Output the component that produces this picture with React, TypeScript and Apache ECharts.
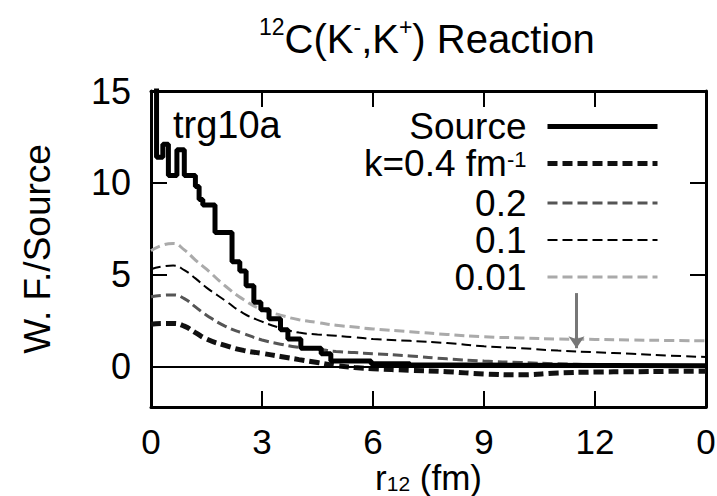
import React, { useEffect, useRef } from "react";
import * as echarts from "echarts";

// Source histogram (bin start r in fm, value)
const sourceR = [0, 0.15, 0.32, 0.47, 0.7, 0.9, 1.2, 1.3, 1.4, 1.73, 2.19, 2.4, 2.57, 2.78, 2.97, 3.19, 3.5, 3.7, 4.05, 4.6, 4.86, 5.95, 7.0, 9.0, 15];
const sourceV = [18, 11.4, 12.1, 10.4, 11.8, 10.4, 9.8, 9.1, 8.8, 7.3, 5.7, 5.2, 4.4, 3.5, 3.1, 2.6, 2.0, 1.5, 1.0, 0.7, 0.3, 0.15, 0.08, 0.05, 0.05];

// W.F./Source curves
const rK = [0, 0.3, 0.6, 0.9, 1.2, 1.5, 2.0, 2.5, 3.0, 3.5, 4.0, 4.5, 5.0, 5.5, 6.0, 7.0, 8.0, 9.0, 10, 11, 12, 13, 14, 15];
const k04 = [2.3, 2.35, 2.35, 2.2, 1.85, 1.5, 1.15, 0.88, 0.72, 0.55, 0.38, 0.22, 0.05, -0.05, -0.12, -0.2, -0.28, -0.4, -0.45, -0.35, -0.3, -0.28, -0.26, -0.25];
const k02 = [3.8, 3.88, 3.9, 3.7, 3.25, 2.8, 2.2, 1.8, 1.45, 1.22, 1.05, 0.95, 0.82, 0.76, 0.7, 0.58, 0.42, 0.3, 0.22, 0.15, 0.1, 0.06, 0.03, 0.0];
const k01 = [5.3, 5.45, 5.5, 5.25, 4.8, 4.3, 3.6, 2.9, 2.45, 2.1, 1.85, 1.75, 1.68, 1.6, 1.5, 1.4, 1.28, 1.1, 1.0, 0.87, 0.78, 0.7, 0.6, 0.52];
const k001 = [6.3, 6.6, 6.7, 6.35, 5.8, 5.3, 4.4, 3.65, 3.1, 2.8, 2.55, 2.4, 2.25, 2.15, 2.05, 1.9, 1.75, 1.62, 1.56, 1.5, 1.48, 1.45, 1.42, 1.4];

const seriesNames = ["Source", "k=0.4 fm-1", "0.2", "0.1", "0.01"];
const yTicks = [0, 5, 10, 15];
const arrowFrom = [11.5, 4.0];
const arrowTo = [11.5, 1.0];

const FONT = "'Liberation Sans', Arial, Helvetica, sans-serif";

export default function App() {
  const ref = useRef<HTMLDivElement>(null);
  useEffect(() => {
    if (!ref.current) return;
    const chart = echarts.init(ref.current, null, { renderer: "svg" });
    const pair = (xs: number[], ys: number[]) => xs.map((x, i) => [x, ys[i]]);
    const frameAxisX = {
      type: "value",
      min: 0,
      max: 15,
      interval: 3,
      splitLine: { show: false },
      axisLine: { show: true, onZero: false, lineStyle: { color: "#000", width: 3 } },
      axisTick: { show: true, inside: true, length: 16, lineStyle: { color: "#000", width: 2 } },
    };
    const frameAxisY = {
      type: "value",
      min: -2.2,
      max: 15,
      splitLine: { show: false },
      axisLine: { show: true, onZero: false, lineStyle: { color: "#000", width: 3 } },
      axisTick: { show: true, inside: true, length: 16, customValues: yTicks, lineStyle: { color: "#000", width: 2 } },
    };
    chart.setOption({
      animation: false,
      backgroundColor: "#fff",
      textStyle: { fontFamily: FONT },
      title: [
        {
          text: "{sup|12}{n|C(K}{sup|-}{n|,K}{sup|+}{n|) Reaction}",
          left: 254,
          top: 10,
          textStyle: {
            fontFamily: FONT,
            fontWeight: "normal",
            color: "#000",
            rich: {
              n: { fontSize: 40, fontFamily: FONT, color: "#000", lineHeight: 44, verticalAlign: "bottom" },
              sup: { fontSize: 23, fontFamily: FONT, color: "#000", lineHeight: 23, verticalAlign: "top" },
            },
          },
        },
        {
          text: "trg10a",
          left: 168,
          top: 101,
          textStyle: { fontFamily: FONT, fontWeight: "normal", fontSize: 38, color: "#000" },
        },
      ],
      legend: {
        right: 57,
        top: 108,
        orient: "vertical",
        align: "right",
        padding: 0,
        itemWidth: 110,
        itemHeight: 14,
        itemGap: 0,
        selectedMode: false,
        lineStyle: { width: "inherit" },
        itemStyle: { opacity: 0 },
        data: seriesNames,
        formatter: (name: string) => (name === "k=0.4 fm-1" ? "{n|k=0.4 fm}{sup|-1}" : "{n|" + name + "}"),
        textStyle: {
          fontFamily: FONT,
          fontSize: 37,
          color: "#000",
          lineHeight: 30,
          padding: [0, 16, 0, 0],
          rich: {
            n: { fontSize: 37, fontFamily: FONT, color: "#000", lineHeight: 30 },
            sup: { fontSize: 22, fontFamily: FONT, color: "#000", lineHeight: 30, verticalAlign: "top", padding: [0, 0, 14, 0] },
          },
        },
      },
      grid: { left: 151, right: 11, top: 91, bottom: 89, show: false, outerBoundsMode: "none", containLabel: false },
      xAxis: [
        {
          ...frameAxisX,
          position: "bottom",
          name: "{r|r}{sub|12}{r| (fm)}",
          nameLocation: "middle",
          nameGap: 53,
          nameMoveOverlap: false,
          nameTextStyle: {
            verticalAlign: "top",
            rich: {
              r: { fontSize: 35, fontFamily: FONT, color: "#000", lineHeight: 34, verticalAlign: "top" },
              sub: { fontSize: 21, fontFamily: FONT, color: "#000", lineHeight: 21, verticalAlign: "bottom" },
            },
          },
          axisLabel: {
            show: true,
            margin: 17,
            fontSize: 35,
            lineHeight: 34,
            fontFamily: FONT,
            color: "#000",
            formatter: (v: number) => (v === 15 ? "0" : String(v)),
          },
        },
        { ...frameAxisX, position: "top", axisLabel: { show: false } },
      ],
      yAxis: [
        {
          ...frameAxisY,
          position: "left",
          name: "W. F./Source",
          nameLocation: "middle",
          nameRotate: 90,
          nameGap: 95,
          nameTextStyle: { fontSize: 37, fontFamily: FONT, color: "#000" },
          axisLabel: { show: true, customValues: yTicks, margin: 20, fontSize: 36, fontFamily: FONT, color: "#000" },
        },
        { ...frameAxisY, position: "right", axisLabel: { show: false } },
      ],
      series: [
        {
          name: seriesNames[0],
          type: "line",
          step: "end",
          symbol: "none",
          data: pair(sourceR, sourceV),
          lineStyle: { color: "#000", width: 5, type: "solid" },
          itemStyle: { color: "#000" },
          z: 5,
          markLine: {
            silent: true,
            symbol: ["none", "none"],
            label: { show: false },
            lineStyle: { color: "#000", width: 2, type: "solid" },
            data: [{ yAxis: 0 }],
          },
        },
        {
          name: seriesNames[1],
          type: "line",
          smooth: true,
          symbol: "none",
          data: pair(rK, k04),
          lineStyle: { color: "#111", width: 5, type: [10, 5] },
          itemStyle: { color: "#111" },
        },
        {
          name: seriesNames[2],
          type: "line",
          smooth: true,
          symbol: "none",
          data: pair(rK, k02),
          lineStyle: { color: "#555", width: 3, type: [10, 5] },
          itemStyle: { color: "#555" },
        },
        {
          name: seriesNames[3],
          type: "line",
          smooth: true,
          symbol: "none",
          data: pair(rK, k01),
          lineStyle: { color: "#000", width: 2, type: [10, 5] },
          itemStyle: { color: "#000" },
        },
        {
          name: seriesNames[4],
          type: "line",
          smooth: true,
          symbol: "none",
          data: pair(rK, k001),
          lineStyle: { color: "#aaa", width: 3, type: [10, 5] },
          itemStyle: { color: "#aaa" },
          markLine: {
            silent: true,
            symbol: ["none", "arrow"],
            symbolSize: 12,
            label: { show: false },
            lineStyle: { color: "#777", width: 3, type: "solid" },
            data: [[{ coord: arrowFrom }, { coord: arrowTo }]],
          },
        },
      ],
    } as any);
    return () => chart.dispose();
  }, []);
  return <div ref={ref} style={{ width: 717, height: 496, position: "absolute", left: 0, top: 0 }} />;
}
